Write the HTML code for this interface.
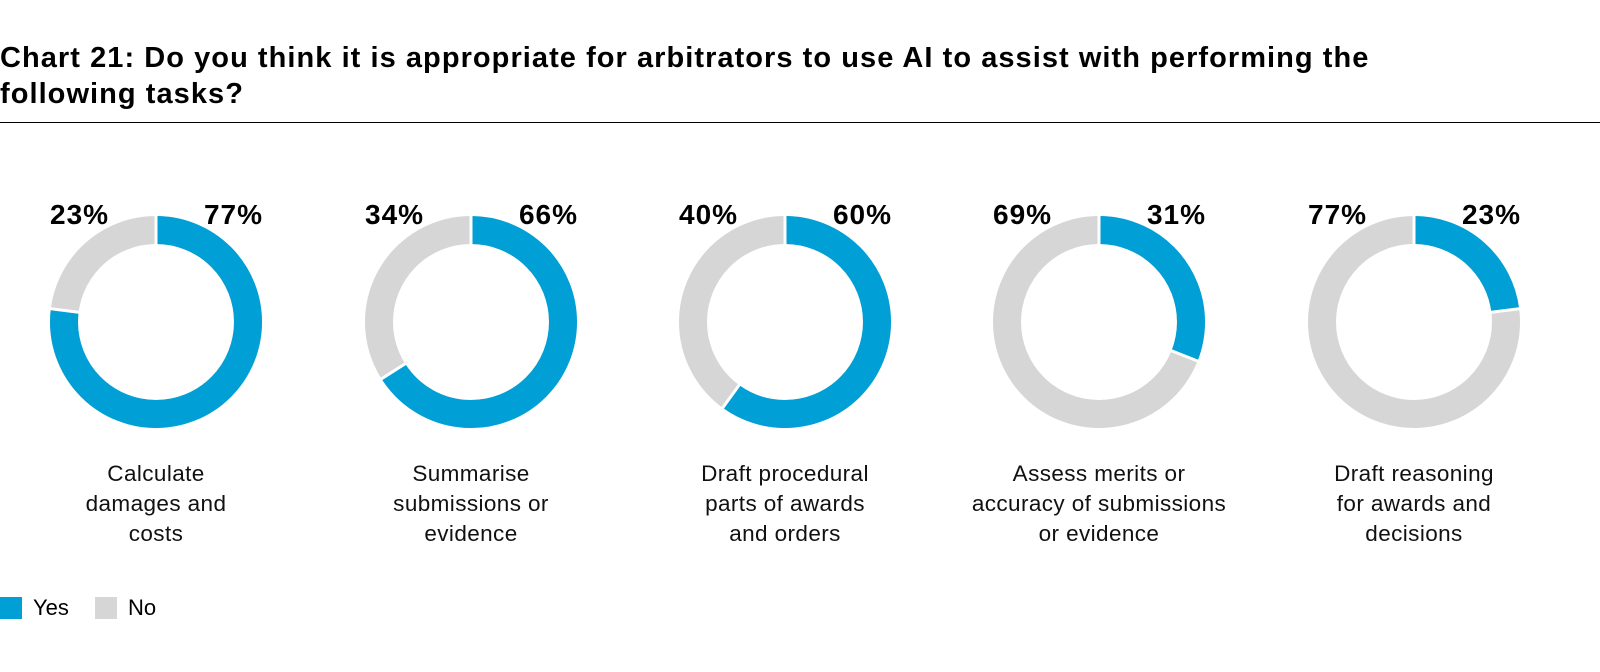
<!DOCTYPE html>
<html><head><meta charset="utf-8"><style>
body{margin:0;width:1600px;height:672px;background:#fff;font-family:"Liberation Sans",Arial,sans-serif;overflow:hidden;position:relative}
.t{position:absolute;left:0;top:40px;font-weight:bold;font-size:29px;line-height:36px;color:#000;letter-spacing:1.05px}
.rule{position:absolute;left:0;top:122px;width:1600px;height:1px;background:#000}
.lab{position:absolute;width:320px;text-align:center;font-size:22.5px;line-height:30px;color:#111;top:459px;letter-spacing:0.4px}
.leg{position:absolute;top:596px;font-size:22px;line-height:24px}
.sq{position:absolute;top:597px;width:22px;height:22px}
</style></head><body>
<div class="t">Chart 21: Do you think it is appropriate for arbitrators to use AI to assist with performing the<br>following tasks?</div>
<div class="rule"></div>
<svg width="1600" height="672" style="position:absolute;left:0;top:0" font-family="Liberation Sans,Arial,sans-serif">
<g id="d"></g>
</svg>
<div class="lab" style="left:-4px">Calculate<br>damages and<br>costs</div>
<div class="lab" style="left:311px">Summarise<br>submissions or<br>evidence</div>
<div class="lab" style="left:625px">Draft procedural<br>parts of awards<br>and orders</div>
<div class="lab" style="left:939px">Assess merits or<br>accuracy of submissions<br>or evidence</div>
<div class="lab" style="left:1254px">Draft reasoning<br>for awards and<br>decisions</div>
<div class="sq" style="left:0;background:#009fd6"></div><div class="leg" style="left:33px">Yes</div>
<div class="sq" style="left:95px;background:#d6d6d6"></div><div class="leg" style="left:128px">No</div>
<script>
var data=[[156,77],[471,66],[785,60],[1099,31],[1414,23]];
var g=document.getElementById('d'),s='';
var r=92,C=2*Math.PI*r,cy=322;
data.forEach(function(d){
var cx=d[0],y=d[1];
s+='<circle cx="'+cx+'" cy="'+cy+'" r="'+r+'" fill="none" stroke="#d6d6d6" stroke-width="28"/>';
s+='<circle cx="'+cx+'" cy="'+cy+'" r="'+r+'" fill="none" stroke="#009fd6" stroke-width="28" stroke-dasharray="'+(C*y/100)+' '+C+'" transform="rotate(-90 '+cx+' '+cy+')"/>';
var a=2*Math.PI*y/100;
s+='<line x1="'+cx+'" y1="'+(cy-77)+'" x2="'+cx+'" y2="'+(cy-107)+'" stroke="#fff" stroke-width="3"/>';
s+='<line x1="'+(cx+77*Math.sin(a))+'" y1="'+(cy-77*Math.cos(a))+'" x2="'+(cx+107*Math.sin(a))+'" y2="'+(cy-107*Math.cos(a))+'" stroke="#fff" stroke-width="3"/>';
s+='<text x="'+(cx-106)+'" y="224" font-size="28" font-weight="bold" letter-spacing="1">'+(100-y)+'%</text>';
s+='<text x="'+(cx+107)+'" y="224" font-size="28" font-weight="bold" letter-spacing="1" text-anchor="end">'+y+'%</text>';
});
g.innerHTML=s;
</script>
</body></html>
